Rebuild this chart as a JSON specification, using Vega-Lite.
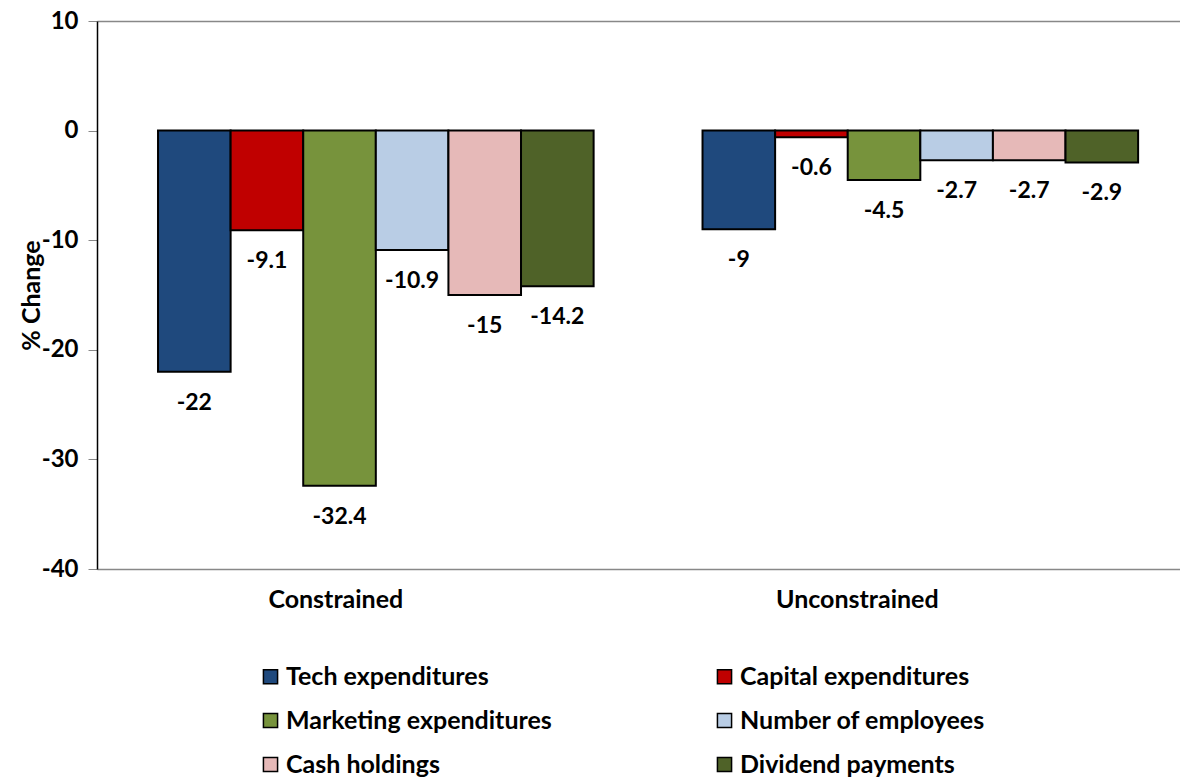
{
  "$schema": "https://vega.github.io/schema/vega-lite/v6.json",
  "autosize": "none",
  "width": 1083,
  "height": 548,
  "padding": {"left": 97, "top": 21, "right": 0, "bottom": 208},
  "background": "white",
  "config": {
    "view": {"stroke": null},
    "font": "Lato",
    "axis": {"labelFont": "Lato", "titleFont": "Lato"},
    "locale": {
      "number": {"decimal": ".", "thousands": ",", "grouping": [3], "currency": ["$", ""], "minus": "-"}
    }
  },
  "data": {
    "values": [
      {"group": "Constrained", "measure": "Tech expenditures", "value": -22},
      {"group": "Constrained", "measure": "Capital expenditures", "value": -9.1},
      {"group": "Constrained", "measure": "Marketing expenditures", "value": -32.4},
      {"group": "Constrained", "measure": "Number of employees", "value": -10.9},
      {"group": "Constrained", "measure": "Cash holdings", "value": -15},
      {"group": "Constrained", "measure": "Dividend payments", "value": -14.2},
      {"group": "Unconstrained", "measure": "Tech expenditures", "value": -9},
      {"group": "Unconstrained", "measure": "Capital expenditures", "value": -0.6},
      {"group": "Unconstrained", "measure": "Marketing expenditures", "value": -4.5},
      {"group": "Unconstrained", "measure": "Number of employees", "value": -2.7},
      {"group": "Unconstrained", "measure": "Cash holdings", "value": -2.7},
      {"group": "Unconstrained", "measure": "Dividend payments", "value": -2.9}
    ]
  },
  "encoding": {
    "x": {
      "field": "group",
      "type": "nominal",
      "sort": ["Constrained", "Unconstrained"],
      "scale": {"paddingInner": 0.2, "paddingOuter": 0.0945, "align": 0.593},
      "axis": {
        "title": null,
        "labelAngle": 0,
        "ticks": false,
        "domain": false,
        "labelFontSize": 25,
        "labelFontWeight": "bold",
        "labelColor": "black",
        "labelBaseline": "top",
        "labelPadding": 18,
        "labelOffset": {"condition": {"test": "datum.value == 'Constrained'", "value": -40}, "value": -63}
      }
    },
    "xOffset": {
      "field": "measure",
      "type": "nominal",
      "sort": ["Tech expenditures", "Capital expenditures", "Marketing expenditures", "Number of employees", "Cash holdings", "Dividend payments"],
      "scale": {"paddingInner": 0, "paddingOuter": 0}
    },
    "y": {
      "field": "value",
      "type": "quantitative",
      "scale": {"domain": [-40, 10], "nice": false, "zero": false},
      "axis": {
        "title": "% Change",
        "titleFontSize": 25,
        "titleFontWeight": "bold",
        "titleColor": "black",
        "titlePadding": -3,
        "values": [10, 0, -10, -20, -30, -40],
        "labelFontSize": 24,
        "labelFontWeight": "bold",
        "labelColor": "black",
        "labelPadding": 10,
        "tickSize": 9,
        "tickColor": "#888888",
        "domainColor": "black",
        "domainWidth": 1.5,
        "grid": true,
        "gridColor": "#888888",
        "gridWidth": 1.5,
        "gridOpacity": {"condition": {"test": "datum.value == 10 || datum.value == -40", "value": 1}, "value": 0}
      }
    }
  },
  "layer": [
    {
      "mark": {"type": "bar", "stroke": "black", "strokeWidth": 2},
      "encoding": {
        "color": {
          "field": "measure",
          "type": "nominal",
          "sort": ["Tech expenditures", "Capital expenditures", "Marketing expenditures", "Number of employees", "Cash holdings", "Dividend payments"],
          "scale": {
            "domain": ["Tech expenditures", "Capital expenditures", "Marketing expenditures", "Number of employees", "Cash holdings", "Dividend payments"],
            "range": ["#1F497D", "#C00000", "#77933C", "#B9CDE5", "#E6B9B8", "#4F6228"]
          },
          "legend": {
            "title": null,
            "orient": "none",
            "legendX": 161,
            "legendY": 643,
            "direction": "horizontal",
            "columns": 2,
            "columnPadding": 160,
            "rowPadding": 18,
            "symbolType": "square",
            "symbolSize": 200,
            "symbolStrokeColor": "black",
            "symbolStrokeWidth": 1.5,
            "labelFontSize": 25,
            "labelFontWeight": "bold",
            "labelColor": "black",
            "labelOffset": 3,
            "labelLimit": 400
          }
        }
      }
    },
    {
      "mark": {"type": "text", "baseline": "middle", "align": "center", "dy": 31, "fontSize": 23, "fontWeight": "bold", "color": "black"},
      "encoding": {
        "text": {"field": "value", "type": "quantitative"}
      }
    }
  ]
}
